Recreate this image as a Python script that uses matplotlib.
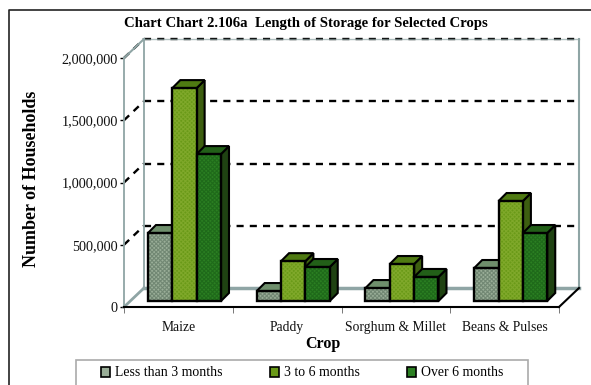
import numpy as np
import matplotlib
matplotlib.use("Agg")
import matplotlib.pyplot as plt
from matplotlib.patches import Polygon, Patch, Rectangle
from matplotlib.transforms import Affine2D, IdentityTransform

plt.rcParams['font.family'] = ['Liberation Serif', 'DejaVu Serif']
plt.rcParams['hatch.linewidth'] = 0.8

crops = ["Maize", "Paddy", "Sorghum & Millet", "Beans & Pulses"]
series = ["Less than 3 months", "3 to 6 months", "Over 6 months"]
less_3 = [546000, 80000, 104000, 265000]
from_3_to_6 = [1710000, 320000, 297000, 803000]
over_6 = [1180000, 273000, 193000, 546000]
yticks = [0, 500000, 1000000, 1500000, 2000000]

face = ['#9aae98', '#6a9a18', '#2b7f22']
dots = ['#728874', '#7fa82a', '#1f6a1a']
top_col = ['#6f8f6c', '#4f7a12', '#225f18']
side_col = ['#55705a', '#3d5e10', '#1f4212']

W, H = 591, 385
fig = plt.figure(figsize=(W / 100, H / 100), dpi=100)
ax = fig.add_axes([124 / W, (H - 307) / H, 435 / W, 249 / H])
ax.set_xlim(0, 4)
ax.set_ylim(0, 2000000)
ax.patch.set_visible(False)
for s in ax.spines.values():
    s.set_visible(False)

# pixel offsets for the fake 3d look
depth = (20, 19)
bar_off = (6, 6)
bar_depth = 8


def px(x, y):
    return ax.transData.transform((x, y))


def line_px(p0, p1, **kw):
    ax.plot([p0[0], p1[0]], [p0[1], p1[1]], transform=IdentityTransform(), clip_on=False, **kw)


wall = '#8fa5a5'
dash = dict(color='black', lw=1.7, dashes=(3, 2.6))

# grid lines on side wall and back wall
for v in yticks[1:]:
    a = px(0, v)
    b = a + depth
    c = px(4, v) + depth
    line_px(a, b, **dash)
    line_px(b, c, **dash)

# walls
a0, a1 = px(0, 0), px(0, 2000000)
b0, b1 = a0 + depth, a1 + depth
c0, c1 = px(4, 0) + depth, px(4, 2000000) + depth
line_px(a0, a1, color=wall, lw=1.3)
line_px(b0, b1, color=wall, lw=1.3)
line_px(c0, c1, color=wall, lw=1.5)
line_px(a1, b1, color=wall, lw=1.5)
line_px(a0, b0, color=wall, lw=2)
line_px(b0, c0, color=wall, lw=2.5)
line_px(b1, c1, color=wall, lw=1, alpha=0.7)

# floor front edges
line_px(a0, px(4, 0), color='black', lw=1.5)
line_px(px(4, 0), c0, color='black', lw=1.5)

# bars
width = 24.4 / 109
start = (24 - bar_off[0]) / 109
shift = Affine2D().translate(*bar_off)
for j, vals in enumerate([less_3, from_3_to_6, over_6]):
    xs = np.arange(4) + start + j * width
    for x, v in zip(xs, vals):
        p10 = px(x + width, 0) + bar_off
        p11 = px(x + width, v) + bar_off
        p01 = px(x, v) + bar_off
        d = np.array([bar_depth, bar_depth])
        ax.add_patch(Polygon([p10, p10 + d, p11 + d, p11], closed=True, transform=IdentityTransform(),
                             fc=side_col[j], ec='black', lw=1.5, clip_on=False, zorder=3 + j))
        ax.add_patch(Polygon([p01, p11, p11 + d, p01 + d], closed=True, transform=IdentityTransform(),
                             fc=top_col[j], ec='black', lw=1.5, clip_on=False, zorder=3 + j))
    bars = ax.bar(xs, vals, width=width, align='edge', color=face[j], edgecolor=dots[j],
                  hatch='xxxxxxxx', lw=0, zorder=3.1 + j)
    edges = ax.bar(xs, vals, width=width, align='edge', fill=False, edgecolor='black', lw=1.7, zorder=3.2 + j)
    for b in list(bars) + list(edges):
        b.set_transform(ax.transData + shift)
        b.set_clip_on(False)

ax.set_yticks(yticks)
ax.set_yticklabels([f"{v:,}" for v in yticks], fontsize=10.2, color='#111111')
ax.set_xticks(np.arange(5))
ax.set_xticklabels([])
ax.set_xticks(np.arange(4) + 0.5, crops, minor=True, fontsize=9.8, color='#111111')
ax.tick_params(axis='y', length=3, width=1, pad=1.5)
ax.tick_params(axis='x', which='major', length=4, width=0.7, color='#777777')
ax.tick_params(axis='x', which='minor', length=0, pad=10)

fig.text(306 / W, (H - 23) / H, "Chart Chart 2.106a  Length of Storage for Selected Crops",
         ha='center', va='center', fontsize=10.6, fontweight='bold')
fig.text(323 / W, (H - 344) / H, "Crop", ha='center', va='center', fontsize=11.5, fontweight='bold')
fig.text(32 / W, (H - 179) / H, "Number of Households", rotation=90, ha='center', va='center',
         fontsize=13, fontweight='bold')

# outer frame, runs off right and bottom
fig.add_artist(plt.Line2D([9.5 / W, 9.5 / W, 1], [0, (H - 9.5) / H, (H - 9.5) / H], color='#222222', lw=1.2))

# legend box cut by the bottom of the image
fig.add_artist(Rectangle((75.5 / W, -10 / H), 452 / W, (H - 360 + 10) / H, transform=fig.transFigure,
                         fc='white', ec='#aaaaaa', lw=1.2))
handles = [Patch(facecolor=face[j], edgecolor='black', lw=1.2) for j in range(3)]
leg = fig.legend(handles, series, loc='center', bbox_to_anchor=(302 / W, (H - 373) / H), ncol=3,
                 fontsize=9.9, frameon=False, handlelength=0.65, handleheight=0.75, handletextpad=0.35,
                 columnspacing=3.45, borderpad=0, borderaxespad=0)

fig.savefig("out.png", dpi=100)
